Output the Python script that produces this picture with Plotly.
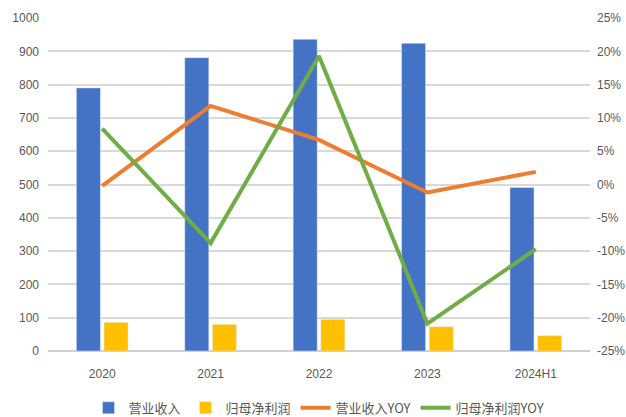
import plotly.graph_objects as go

categories = ["2020", "2021", "2022", "2023", "2024H1"]
revenue = [790, 881, 936, 924, 491]
net_profit = [86, 80, 95, 73, 46]
revenue_yoy = [-0.002, 0.118, 0.067, -0.012, 0.019]
profit_yoy = [0.084, -0.088, 0.193, -0.209, -0.097]

pct_ticks = [0.25, 0.20, 0.15, 0.10, 0.05, 0.0, -0.05, -0.10, -0.15, -0.20, -0.25]
pct_labels = ["25%", "20%", "15%", "10%", "5%", "0%", "-5%", "-10%", "-15%", "-20%", "-25%"]

font_cn = "Noto Sans CJK SC"
tick_font = dict(family="Liberation Sans, Noto Sans CJK SC", size=12, color="#595959")

fig = go.Figure()
fig.add_trace(go.Bar(x=categories, y=revenue, name="营业收入", marker_color="#4472C4"))
fig.add_trace(go.Bar(x=categories, y=net_profit, name="归母净利润", marker_color="#FFC000"))
fig.add_trace(go.Scatter(x=categories, y=revenue_yoy, name="营业收入YOY", yaxis="y2",
                         mode="lines", line=dict(color="#ED7D31", width=4)))
fig.add_trace(go.Scatter(x=categories, y=profit_yoy, name="归母净利润YOY", yaxis="y2",
                         mode="lines", line=dict(color="#70AD47", width=4)))

fig.update_layout(
    width=626, height=417,
    margin=dict(l=48, r=36, t=18, b=66),
    paper_bgcolor="white", plot_bgcolor="white",
    barmode="group", bargap=0.49, bargroupgap=0.13,
    font=dict(family=font_cn, size=12, color="#595959"),
    xaxis=dict(showgrid=False, tickfont=tick_font, ticks="", showline=False,
               automargin=False, ticklabelstandoff=14),
    yaxis=dict(range=[0, 1000], dtick=100, showgrid=True, gridcolor="#D9D9D9", gridwidth=2,
               zeroline=True, zerolinecolor="#D0D0D0", zerolinewidth=2,
               tickfont=tick_font, ticklabelstandoff=8, automargin=False),
    yaxis2=dict(range=[-0.25, 0.25], overlaying="y", side="right", showgrid=False,
                zeroline=False, tickvals=pct_ticks, ticktext=pct_labels, tickfont=tick_font,
                automargin=False, ticklabelstandoff=6),
    legend=dict(orientation="h", x=0.5, xanchor="center", yref="container", y=0.022,
                yanchor="middle", font=dict(family=font_cn, size=13, color="#595959"),
                traceorder="normal"),
    showlegend=True,
)

# plotly's page keeps the browser's default 8px body margin
fig.write_html("out.html", config={"displayModeBar": False},
               post_script="document.body.style.margin='0px';")
